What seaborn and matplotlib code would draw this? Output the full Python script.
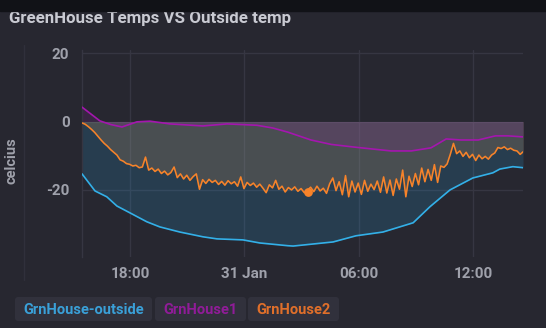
import matplotlib
matplotlib.use("Agg")
import matplotlib.pyplot as plt
import matplotlib.dates as mdates
from matplotlib.patches import FancyBboxPatch, Rectangle
from matplotlib.lines import Line2D
import seaborn as sns
import pandas as pd

# ---------------- data ----------------
title = "GreenHouse Temps VS Outside temp"
y_label = "celcius"
series_names = ["GrnHouse-outside", "GrnHouse1", "GrnHouse2"]

outside_times = [
    "2021-01-30 15:29", "2021-01-30 16:10", "2021-01-30 16:47", "2021-01-30 17:19",
    "2021-01-30 18:00", "2021-01-30 18:53", "2021-01-30 19:34", "2021-01-30 20:37",
    "2021-01-30 21:50", "2021-01-30 22:34", "2021-01-30 23:56", "2021-01-31 00:49",
    "2021-01-31 02:17", "2021-01-31 02:34", "2021-01-31 04:40", "2021-01-31 05:52",
    "2021-01-31 07:17", "2021-01-31 08:52", "2021-01-31 09:45", "2021-01-31 10:48",
    "2021-01-31 12:00", "2021-01-31 13:03", "2021-01-31 13:25", "2021-01-31 14:06",
    "2021-01-31 14:38",
]
outside_vals = [
    -15.3, -20.3, -22.0, -24.7, -26.7, -29.3, -30.8, -32.3, -33.7, -34.3,
    -34.6, -35.5, -36.3, -36.4, -35.2, -33.4, -32.3, -29.6, -24.9, -20.0,
    -16.5, -15.0, -13.9, -13.2, -13.5,
]

gh1_times = [
    "2021-01-30 15:29", "2021-01-30 16:25", "2021-01-30 17:00", "2021-01-30 17:35",
    "2021-01-30 18:22", "2021-01-30 19:03", "2021-01-30 20:06", "2021-01-30 21:50",
    "2021-01-30 23:06", "2021-01-31 00:40", "2021-01-31 01:30", "2021-01-31 02:17",
    "2021-01-31 03:30", "2021-01-31 04:34", "2021-01-31 05:49", "2021-01-31 07:42",
    "2021-01-31 08:46", "2021-01-31 09:48", "2021-01-31 10:36", "2021-01-31 11:23",
    "2021-01-31 12:17", "2021-01-31 13:11", "2021-01-31 13:52", "2021-01-31 14:38",
]
gh1_vals = [
    4.2, 0.2, -0.9, -1.6, -0.1, 0.1, -0.7, -1.3, -0.7, -1.1, -1.9, -3.1,
    -5.4, -6.7, -7.5, -8.6, -8.6, -7.7, -5.1, -5.4, -5.4, -4.2, -4.2, -4.5,
]

gh2_start = "2021-01-30 15:29"
gh2_step = "10min"
gh2_vals = [
    -0.4, -0.8, -1.5, -2.3, -3.2, -4.3, -5.4, -6.4, -7.2, -8.2,
    -9.0, -9.8, -11.2, -11.6, -12.3, -12.5, -13.0, -12.8, -13.5, -13.3,
    -10.4, -14.2, -13.6, -14.6, -13.9, -15.2, -14.5, -15.6, -14.9, -13.3,
    -16.4, -15.3, -16.8, -15.7, -17.2, -16.1, -15.3, -19.8, -17.0, -18.1,
    -16.9, -17.8, -17.2, -18.4, -17.5, -18.6, -17.3, -18.2, -17.6, -18.9,
    -16.2, -19.6, -17.8, -18.7, -18.0, -19.2, -18.3, -19.5, -20.8, -18.5,
    -19.4, -17.2, -19.8, -18.9, -20.6, -19.3, -20.0, -19.1, -20.4, -19.6,
    -20.8, -20.1, -19.2, -20.5, -18.9, -20.3, -19.5, -21.0, -18.2, -16.5,
    -20.2, -17.6, -21.4, -15.8, -22.0, -17.4, -20.6, -18.0, -21.3, -17.2,
    -20.4, -18.3, -19.9, -17.4, -20.7, -16.2, -20.9, -17.1, -21.6, -16.8,
    -19.8, -14.2, -22.0, -16.0, -19.0, -15.2, -18.5, -13.6, -17.6, -14.0,
    -17.2, -12.6, -17.8, -13.0, -13.4, -12.4, -9.6, -6.4, -9.4, -8.6,
    -10.2, -9.0, -10.6, -9.6, -11.4, -9.8, -10.9, -10.2, -11.0, -9.8,
    -9.2, -7.6, -7.9, -7.4, -8.2, -7.8, -8.4, -8.6, -9.6, -8.8,
]
gh2_dot_time = ["2021-01-31 03:20"]
gh2_dot_val = [-20.6]

x_ticks = ["2021-01-30 18:00", "2021-01-31 00:00", "2021-01-31 06:00", "2021-01-31 12:00"]
x_tick_labels = ["18:00", "31 Jan", "06:00", "12:00"]
y_ticks = [-20, 0, 20]
x_range = ["2021-01-30 15:29", "2021-01-31 14:38"]
y_range = [-39.6, 20.9]

# ---------------- style ----------------
BG = "#272730"
GRID = "#363642"
TXT = "#9fa1ab"
C_OUT = "#33b0e8"
C_GH1 = "#a416ae"
C_GH2 = "#f7832a"
F_OUT = "#2c9ad0"
F_GH2 = "#d2935a"
F_GH1 = "#862293"

sns.set_theme(style="dark")
plt.rcParams["font.family"] = ["Roboto", "DejaVu Sans"]

W, H = 546, 328
fig = plt.figure(figsize=(W / 100, H / 100), dpi=100, facecolor=BG)
ax = fig.add_axes([82 / W, 1 - 257 / H, (523 - 82) / W, (257 - 50) / H])
ax.set_facecolor(BG)

t_out = pd.to_datetime(outside_times)
t_gh1 = pd.to_datetime(gh1_times)
t_gh2 = pd.date_range(gh2_start, periods=len(gh2_vals), freq=gh2_step)

ax.fill_between(t_out, outside_vals, 0, color=F_OUT, alpha=0.2, lw=0, zorder=1)
ax.fill_between(t_gh2, gh2_vals, 0, color=F_GH2, alpha=0.2, lw=0, zorder=1.1)
ax.fill_between(t_gh1, gh1_vals, 0, color=F_GH1, alpha=0.2, lw=0, zorder=1.2)

sns.lineplot(x=t_out, y=outside_vals, ax=ax, color=C_OUT, lw=1.2, zorder=3)
sns.lineplot(x=t_gh1, y=gh1_vals, ax=ax, color=C_GH1, lw=1.2, zorder=3)
sns.lineplot(x=t_gh2, y=gh2_vals, ax=ax, color=C_GH2, lw=1.15, zorder=3)
sns.scatterplot(x=pd.to_datetime(gh2_dot_time), y=gh2_dot_val, ax=ax,
                color=C_GH2, s=40, linewidth=0, zorder=4)

ax.set_xlim(pd.to_datetime(x_range[0]), pd.to_datetime(x_range[1]))
ax.set_ylim(*y_range)
ax.set_xticks(pd.to_datetime(x_ticks))
ax.set_xticklabels(x_tick_labels)
ax.set_yticks(y_ticks)
ax.set_yticklabels([str(v) for v in y_ticks])
ax.set_xlabel("")
ax.set_ylabel("")
ax.grid(True, color=GRID, lw=1, zorder=0)
ax.set_axisbelow(True)
for side in ["top", "right", "bottom"]:
    ax.spines[side].set_visible(False)
ax.spines["left"].set_color(GRID)
ax.spines["left"].set_linewidth(1)
ax.tick_params(axis="both", length=0, colors=TXT, labelsize=11)
ax.tick_params(axis="x", pad=7)
ax.tick_params(axis="y", pad=9)
for lab in ax.get_xticklabels() + ax.get_yticklabels():
    lab.set_fontweight("bold")

# y label
fig.text(12 / W, 1 - 161 / H, y_label, rotation=90, ha="center", va="center",
         color=TXT, fontsize=10.5, fontweight="bold")

# faint left guide line
fig.add_artist(Line2D([24 / W, 24 / W], [1 - 45 / H, 1 - 280 / H],
                      transform=fig.transFigure, color="#30303b", lw=1))

# title + top strip
fig.text(9 / W, 1 - 22.8 / H, title, ha="left", va="baseline", color="#c9cad2",
         fontsize=12.2, fontweight="bold")
fig.add_artist(Rectangle((0, 1 - 11 / H), 1, 11 / H, transform=fig.transFigure,
                         color="#111217", zorder=10))

# legend chips
chips = [(15, 152), (155, 246), (248, 339)]
leg_colors = ["#3aa0d8", "#901c98", "#e06f2a"]
for (x0, x1), name, col in zip(chips, series_names, leg_colors):
    box = FancyBboxPatch(((x0 + 2) / 100, (H - 321 + 2) / 100),
                         (x1 - x0 - 4) / 100, (24 - 4) / 100,
                         boxstyle="round,pad=0.02,rounding_size=0.03",
                         transform=fig.dpi_scale_trans, facecolor="#31313c",
                         edgecolor="none")
    fig.add_artist(box)
    fig.text((x0 + x1) / 2 / W, 1 - 309.5 / H, name, ha="center", va="center",
             color=col, fontsize=10.5, fontweight="bold")

fig.savefig("out.png", dpi=100, facecolor=BG)
